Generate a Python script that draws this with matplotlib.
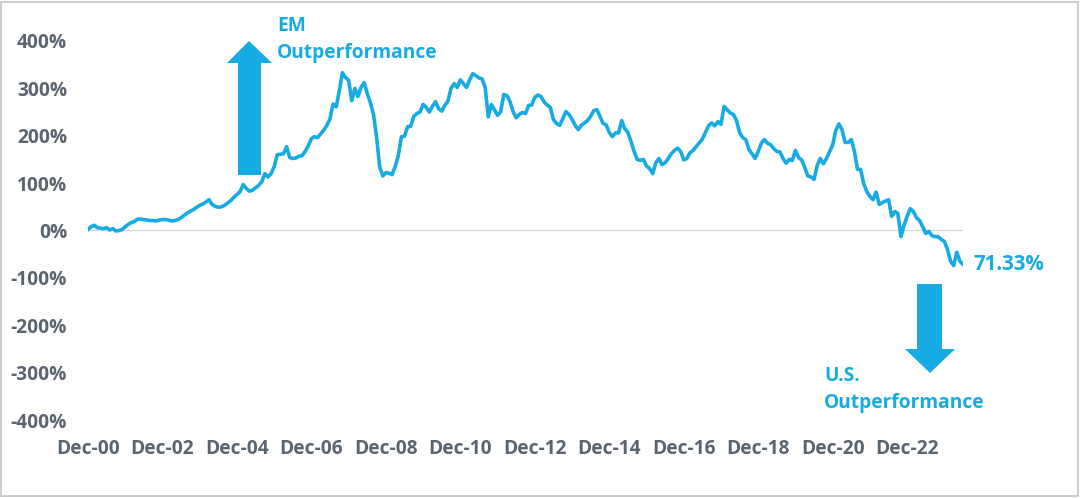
import matplotlib
matplotlib.use('Agg')
import matplotlib.pyplot as plt
from matplotlib.patches import Polygon, Rectangle

## Monthly relative performance EM vs U.S., Dec-00 .. Jun-24 (in %)
rel_perf = [
    2, 8, 11, 6, 5, 4, 6, 1, 4, -1, 0, 2,
    8, 13, 17, 19, 24, 24, 23, 22, 21, 21, 20, 22,
    23, 23, 22, 20, 21, 23, 27, 32, 37, 41, 44, 49,
    53, 56, 60, 65, 55, 51, 49, 50, 53, 58, 63, 70,
    76, 82, 97, 89, 83, 85, 90, 95, 103, 120, 113, 120,
    135, 160, 161, 162, 177, 154, 152, 153, 157, 158, 167, 179,
    194, 198, 196, 204, 212, 222, 236, 267, 261, 295, 333, 323,
    317, 274, 300, 283, 302, 312, 289, 270, 245, 198, 135, 115,
    122, 121, 118, 135, 158, 198, 199, 219, 220, 241, 247, 250,
    266, 260, 250, 262, 272, 257, 252, 264, 273, 300, 310, 302,
    318, 310, 302, 318, 331, 327, 322, 320, 302, 240, 266, 255,
    243, 251, 287, 285, 272, 251, 238, 245, 249, 247, 264, 265,
    281, 286, 283, 271, 265, 260, 234, 226, 222, 236, 251, 245,
    235, 222, 213, 222, 227, 232, 241, 253, 255, 241, 226, 223,
    207, 198, 206, 206, 232, 215, 207, 188, 167, 150, 148, 150,
    136, 131, 120, 143, 152, 139, 143, 152, 162, 169, 174, 167,
    149, 152, 164, 169, 177, 185, 193, 207, 221, 227, 221, 230,
    224, 262, 255, 248, 245, 232, 207, 196, 192, 171, 162, 152,
    167, 184, 192, 184, 181, 173, 167, 166, 152, 142, 150, 148,
    169, 154, 149, 133, 115, 113, 108, 137, 152, 141, 152, 166,
    181, 211, 225, 213, 186, 186, 192, 167, 129, 129, 99, 82,
    72, 65, 81, 55, 59, 62, 65, 30, 40, 36, -13, 11,
    30, 46, 40, 27, 21, 8, -6, -2, -11, -13, -13, -19,
    -23, -40, -65, -74, -46, -65, -71.33,
]
tick_pos = list(range(0, 265, 24))
tick_labels = ['Dec-%02d' % (y % 100) for y in range(0, 23, 2)]
y_ticks = list(range(-400, 401, 100))
end_label = '71.33%'

W, H = 1081, 498
BLUE = '#16ABE3'
GREY = '#5a6570'
FONT = 'Open Sans'

fig = plt.figure(figsize=(W / 100, H / 100), dpi=100)
ax = fig.add_axes([88 / W, 78 / H, (963 - 88) / W, (420 - 41) / H])

ax.plot(range(len(rel_perf)), rel_perf, color=BLUE, lw=2.6, solid_joinstyle='round', zorder=3)
ax.axhline(0, color='#d9d9d9', lw=1, zorder=1)

ax.set_xlim(0, len(rel_perf) - 1)
ax.set_ylim(-400, 400)
ax.set_xticks(tick_pos)
ax.set_xticklabels(tick_labels)
ax.set_yticks(y_ticks)
ax.set_yticklabels(['%d%%' % v for v in y_ticks])
ax.tick_params(length=0, labelsize=13.8, labelcolor=GREY)
ax.tick_params(axis='x', pad=14)
ax.tick_params(axis='y', pad=15)
for lab in ax.get_xticklabels() + ax.get_yticklabels():
    lab.set_fontfamily(FONT)
    lab.set_fontweight('bold')
for s in ax.spines.values():
    s.set_visible(False)


def px(x, y):
    return (x / W, 1 - y / H)


up = [(238, 175), (261, 175), (261, 63), (272, 63), (249, 41), (227, 63), (238, 63)]
down = [(917, 284), (942, 284), (942, 349), (955, 349), (930, 373), (905, 349), (917, 349)]
for pts in (up, down):
    fig.patches.append(Polygon([px(*p) for p in pts], closed=True, transform=fig.transFigure,
                               facecolor=BLUE, edgecolor='none'))

txt = dict(color=BLUE, fontweight='bold', family=FONT, transform=fig.transFigure, linespacing=1.45)
fig.text(*px(277, 16), 'EM\nOutperformance', va='top', ha='left', fontsize=13.8, **txt)
fig.text(*px(824, 366), 'U.S.\nOutperformance', va='top', ha='left', fontsize=13.8, **txt)
fig.text(*px(974, 265), end_label, va='center', ha='left', fontsize=14.8, **txt)

fig.patches.append(Rectangle(px(1, 496), 1077 / W, 494 / H, transform=fig.transFigure,
                             fill=False, edgecolor='#c4c4c4', lw=1.2))

fig.savefig('out.png', dpi=100)
